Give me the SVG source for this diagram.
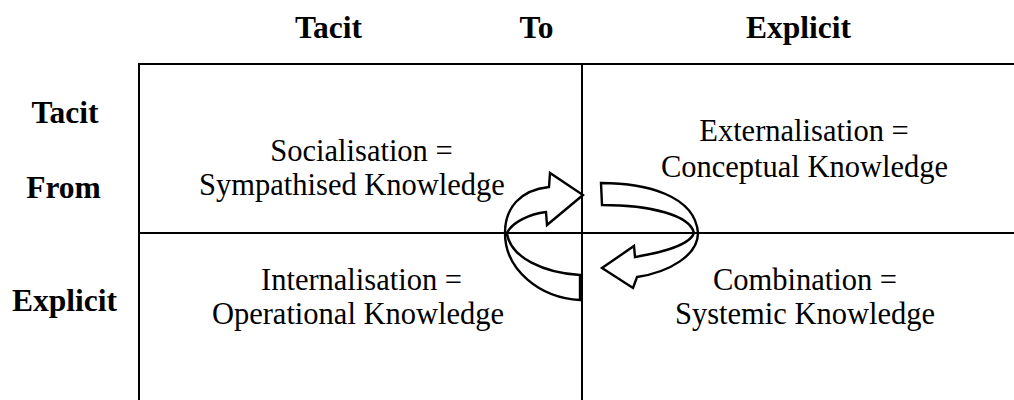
<svg xmlns="http://www.w3.org/2000/svg" width="1014" height="400" viewBox="0 0 1014 400">
<style>
.hd{font-family:"Liberation Serif","Times New Roman",serif;font-weight:bold;font-size:31.5px;fill:#000;text-anchor:middle}
.tx{font-family:"Liberation Serif","Times New Roman",serif;font-size:30.5px;fill:#000;text-anchor:middle}
.grid{stroke:#000;stroke-width:2;fill:none}
.arr{stroke:#000;stroke-width:2.4;fill:none;stroke-linejoin:miter}
</style>
<rect width="1014" height="400" fill="#fff"/>
<g id="headers">
<text class="hd" x="328.5" y="38">Tacit</text>
<text class="hd" x="536.5" y="38">To</text>
<text class="hd" x="798.5" y="38">Explicit</text>
<text class="hd" x="65" y="123">Tacit</text>
<text class="hd" x="63.5" y="198">From</text>
<text class="hd" x="64.5" y="311">Explicit</text>
</g>
<g id="cell-socialisation">
<text class="tx" x="361.5" y="161">Socialisation =</text>
<text class="tx" x="352" y="195">Sympathised Knowledge</text>
</g>
<g id="cell-externalisation">
<text class="tx" x="804" y="141">Externalisation =</text>
<text class="tx" x="804.5" y="177">Conceptual Knowledge</text>
</g>
<g id="cell-internalisation">
<text class="tx" x="361.5" y="290">Internalisation =</text>
<text class="tx" x="358" y="324">Operational Knowledge</text>
</g>
<g id="cell-combination">
<text class="tx" x="805" y="290">Combination =</text>
<text class="tx" x="805" y="324">Systemic Knowledge</text>
</g>
<g id="connectors">
<path class="arr" d="M580 275 C545 273 510 258 507 233 C512 222 530 214 546 212 L547 225 L583 195 L550 173 L549 187 C520 190 505 208 505 233 C505 270 540 298 580 300 Z"/>
<path class="arr" d="M601 183 C645 183 695 195 698 233 C698 255 670 272 637 277 L633 288 L602 268 L634 246 L635 257 C665 252 690 245 694 233 C690 215 650 205 602 205 Z"/>
</g>
<g id="grid">
<line class="grid" x1="139" y1="64" x2="1014" y2="64"/>
<line class="grid" x1="139" y1="233" x2="1014" y2="233"/>
<line class="grid" x1="139" y1="63" x2="139" y2="400"/>
<line class="grid" x1="582" y1="63" x2="582" y2="400"/>
</g>
</svg>
